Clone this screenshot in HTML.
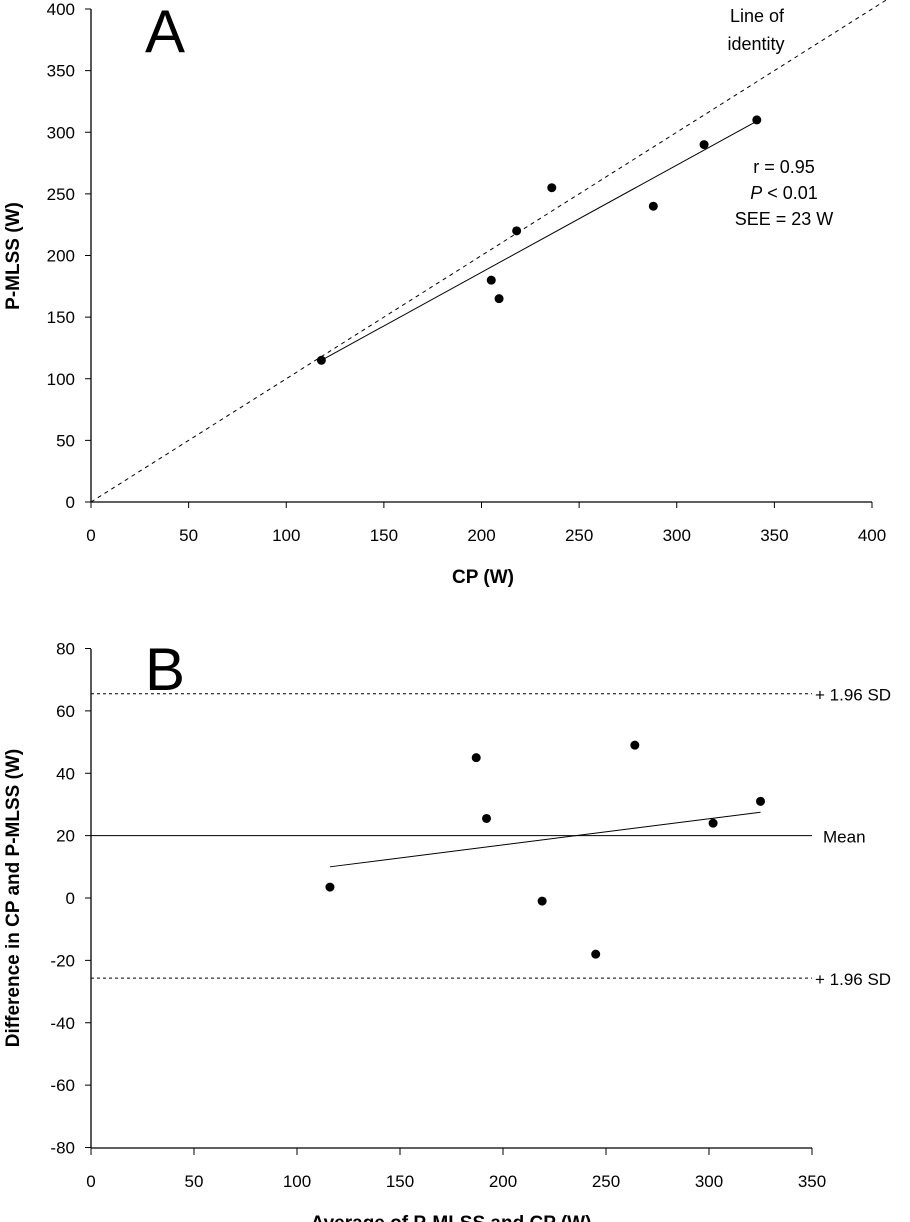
<!DOCTYPE html>
<html><head><meta charset="utf-8"><style>
body{margin:0;background:#fff;}
svg{display:block;font-family:"Liberation Sans",Arial,sans-serif;}
</style></head><body>
<svg id="fig" width="910" height="1222" viewBox="0 0 910 1222" xmlns="http://www.w3.org/2000/svg">
<g id="pa"></g>
<g id="pb"></g>
</svg>
<script>
const aCP=[118,205,209,218,236,288,314,341];
const aPM=[115,180,165,220,255,240,290,310];
const aTicksX=[0,50,100,150,200,250,300,350,400];
const aTicksY=[0,50,100,150,200,250,300,350,400];
const aReg=[[118,115],[341,309]];
const bAvg=[116,187,192,219,245,264,302,325];
const bDiff=[3.5,45,25.5,-1,-18,49,24,31];
const bTicksX=[0,50,100,150,200,250,300,350];
const bTicksY=[-80,-60,-40,-20,0,20,40,60,80];
const bMean=20, bUpper=65.5, bLower=-25.7;
const bReg=[[116,10],[325,27.5]];
const NS="http://www.w3.org/2000/svg";
function el(p,t,a,txt){const e=document.createElementNS(NS,t);for(const k in a)e.setAttribute(k,a[k]);if(txt!==undefined)e.textContent=txt;p.appendChild(e);return e;}
// Panel A
const pa=document.getElementById('pa');
const ax=v=>91+v*(872-91)/400, ay=v=>502-v*(502-9)/400;
let e;
e=el(pa,'line',{x1:91,y1:502,x2:872,y2:502,stroke:'#000','stroke-width':1.3});


e=el(pa,'line',{x1:91,y1:9,x2:91,y2:502,stroke:'#000','stroke-width':1.3});


aTicksX.forEach(v=>{el(pa,'line',{x1:ax(v),y1:502,x2:ax(v),y2:508,stroke:'#000'});
e=el(pa,'text',{x:ax(v),y:541,'font-size':17,'text-anchor':'middle'},v);

});
aTicksY.forEach(v=>{el(pa,'line',{x1:85,y1:ay(v),x2:91,y2:ay(v),stroke:'#000'});
e=el(pa,'text',{x:75,y:ay(v)+6,'font-size':17,'text-anchor':'end'},v);

});
e=el(pa,'line',{x1:ax(0),y1:ay(0),x2:ax(415),y2:ay(415),stroke:'#000','stroke-width':1,'stroke-dasharray':'4,4'});


e=el(pa,'line',{x1:ax(aReg[0][0]),y1:ay(aReg[0][1]),x2:ax(aReg[1][0]),y2:ay(aReg[1][1]),stroke:'#000','stroke-width':1});


aCP.forEach((v,i)=>{e=el(pa,'circle',{cx:ax(v),cy:ay(aPM[i]),r:4.5,fill:'#000'});

});
e=el(pa,'text',{x:483,y:583,'font-size':19,'font-weight':'bold','text-anchor':'middle'},'CP (W)');


e=el(pa,'text',{x:0,y:0,'font-size':19,'font-weight':'bold','text-anchor':'middle',transform:'translate(19,256) rotate(-90)'},'P-MLSS (W)');


e=el(pa,'text',{x:145,y:52,'font-size':60},'A');


e=el(pa,'text',{x:757,y:22,'font-size':18,'text-anchor':'middle'},'Line of');


el(pa,'text',{x:756,y:50,'font-size':18,'text-anchor':'middle'},'identity');
e=el(pa,'text',{x:784,y:173,'font-size':18,'text-anchor':'middle'},'r = 0.95');


const t2=el(pa,'text',{x:784,y:199,'font-size':18,'text-anchor':'middle'});
el(t2,'tspan',{'font-style':'italic'},'P');el(t2,'tspan',{},' < 0.01');
el(pa,'text',{x:784,y:225,'font-size':18,'text-anchor':'middle'},'SEE = 23 W');
// Panel B
const pb=document.getElementById('pb');
const bx=v=>91+v*(812-91)/350, by=v=>898-v*(1148-649)/160;
e=el(pb,'line',{x1:91,y1:1148,x2:812,y2:1148,stroke:'#000','stroke-width':1.3});


e=el(pb,'line',{x1:91,y1:649,x2:91,y2:1148,stroke:'#000','stroke-width':1.3});


bTicksX.forEach(v=>{el(pb,'line',{x1:bx(v),y1:1148,x2:bx(v),y2:1155,stroke:'#000'});
e=el(pb,'text',{x:bx(v),y:1187,'font-size':17,'text-anchor':'middle'},v);

});
bTicksY.forEach(v=>{el(pb,'line',{x1:85,y1:by(v),x2:91,y2:by(v),stroke:'#000'});
e=el(pb,'text',{x:75,y:by(v)+6,'font-size':17,'text-anchor':'end'},v);

});
e=el(pb,'line',{x1:91,y1:by(bMean),x2:812,y2:by(bMean),stroke:'#000','stroke-width':1});


[bUpper,bLower].forEach(v=>{e=el(pb,'line',{x1:91,y1:by(v),x2:812,y2:by(v),stroke:'#000','stroke-dasharray':'3,3'});

});
e=el(pb,'line',{x1:bx(bReg[0][0]),y1:by(bReg[0][1]),x2:bx(bReg[1][0]),y2:by(bReg[1][1]),stroke:'#000'});


bAvg.forEach((v,i)=>{e=el(pb,'circle',{cx:bx(v),cy:by(bDiff[i]),r:4.5,fill:'#000'});

});
e=el(pb,'text',{x:815,y:by(bUpper)+7,'font-size':17},'+ 1.96 SD');


e=el(pb,'text',{x:815,y:by(bLower)+7,'font-size':17},'+ 1.96 SD');


e=el(pb,'text',{x:823,y:by(bMean)+7,'font-size':17},'Mean');


e=el(pb,'text',{x:0,y:0,'font-size':19,'font-weight':'bold','text-anchor':'middle',transform:'translate(19,898) rotate(-90)'},'Difference in CP and P-MLSS (W)');


e=el(pb,'text',{x:451,y:1229,'font-size':19,'font-weight':'bold','text-anchor':'middle'},'Average of P-MLSS and CP (W)');


e=el(pb,'text',{x:145,y:690,'font-size':60},'B');


</script>
</body></html>
